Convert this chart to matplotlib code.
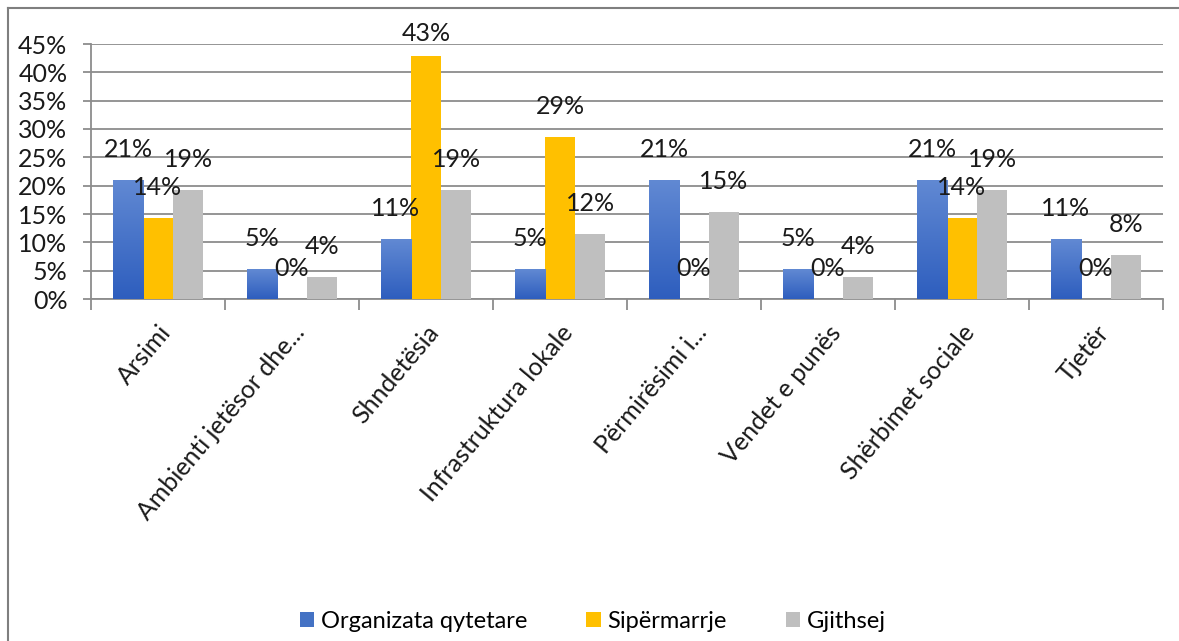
import numpy as np
import matplotlib
matplotlib.use('Agg')
import matplotlib.pyplot as plt
from matplotlib.lines import Line2D

plt.rcParams['font.family'] = ['Lato', 'DejaVu Sans']

categories = ['Arsimi', 'Ambienti jetësor dhe...', 'Shndetësia', 'Infrastruktura lokale',
              'Përmirësimi i...', 'Vendet e punës', 'Shërbimet sociale', 'Tjetër']
organizata = [21.05, 5.26, 10.53, 5.26, 21.05, 5.26, 21.05, 10.53]
sipermarrje = [14.29, 0, 42.86, 28.57, 0, 0, 14.29, 0]
gjithsej = [19.23, 3.85, 19.23, 11.54, 15.38, 3.85, 19.23, 7.69]
series_names = ['Organizata qytetare', 'Sipërmarrje', 'Gjithsej']
colors = ['#4472C4', '#FFC000', '#BFBFBF']

fig = plt.figure(figsize=(11.79, 6.41), dpi=100)
ax = fig.add_axes([91/1179, 1 - 299/641, (1163 - 91)/1179, (299 - 44)/641])

x = np.arange(len(categories))
w = 0.224
grid_c = '#8c8c8c'
fs = 18

for i, (vals, name, c) in enumerate(zip([organizata, sipermarrje, gjithsej], series_names, colors)):
    pos = x + (i - 1) * w
    bars = ax.bar(pos, vals, w, color=c, label=name, zorder=3)
    if i == 0:
        # blue bars have a light-to-dark gradient
        grad = np.linspace(1, 0, 100).reshape(-1, 1)
        cmap = matplotlib.colors.LinearSegmentedColormap.from_list('b', ['#2E5EBE', '#6189D3'])
        for b in bars:
            h = b.get_height()
            if h <= 0:
                continue
            im = ax.imshow(grad, extent=[b.get_x(), b.get_x() + w, 0, h], cmap=cmap,
                           aspect='auto', zorder=3.5, origin='upper')
            im.set_clip_path(b)
    for p, v in zip(pos, vals):
        # labels sit above the bar, but are kept inside the chart area
        ax.text(p, min(v + 5.4, 46.8), f'{round(v)}%', ha='center', va='center',
                fontsize=fs, color='#1a1a1a', zorder=5, clip_on=False)

ax.set_xlim(-0.5, len(categories) - 0.5)
ax.set_ylim(0, 45)
ax.set_yticks(range(0, 50, 5))
ax.set_yticklabels([f'{t}%' for t in range(0, 50, 5)], fontsize=fs, color='#1a1a1a')
ax.yaxis.grid(True, color=grid_c, linewidth=1.3, zorder=0)
ax.tick_params(axis='y', length=6, width=1.3, color=grid_c, pad=11)

ax.set_xticks(x)
ax.set_xticklabels(categories, rotation=50, ha='right', rotation_mode='anchor',
                   fontsize=fs, color='#1a1a1a')
ax.tick_params(axis='x', which='major', length=0, pad=16)
ax.set_xticks(np.arange(-0.5, len(categories), 1), minor=True)
ax.tick_params(axis='x', which='minor', length=8, width=1.3, color=grid_c)

for s in ['top', 'right']:
    ax.spines[s].set_visible(False)
for s in ['left', 'bottom']:
    ax.spines[s].set_color(grid_c)
    ax.spines[s].set_linewidth(1.3)

fig.legend(loc='center', bbox_to_anchor=(593/1179, 1 - 621/641), ncol=3, frameon=False,
           fontsize=17, handlelength=0.6, handleheight=0.6, handletextpad=0.3,
           columnspacing=2.5)

# outer chart frame (left and top edges only)
fig.add_artist(Line2D([8/1179, 8/1179], [0, 1 - 8/641], color='#7f7f7f', linewidth=1.5))
fig.add_artist(Line2D([8/1179, 1.01], [1 - 8/641, 1 - 8/641], color='#7f7f7f', linewidth=1.5))

fig.savefig('out.png', dpi=100)
